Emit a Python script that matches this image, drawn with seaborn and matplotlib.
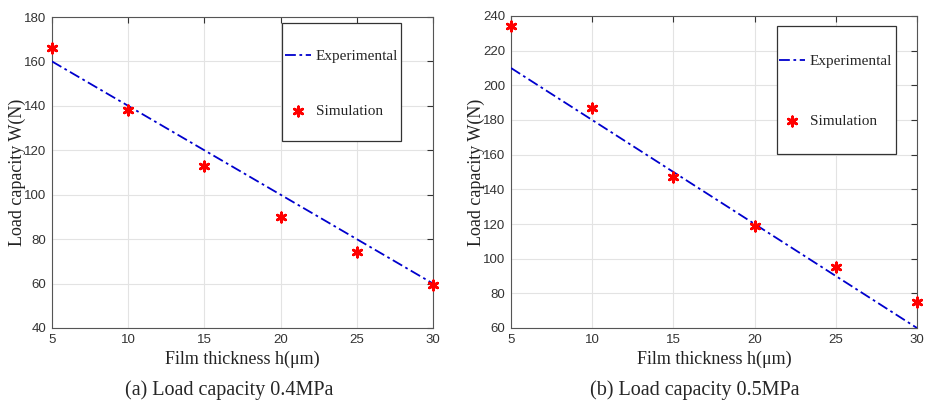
import matplotlib
matplotlib.use("Agg")
import matplotlib.pyplot as plt
import matplotlib.patches as mpatches
import seaborn as sns
import pandas as pd

thickness = [5, 10, 15, 20, 25, 30]
exp_04 = [160, 140, 120, 100, 80, 60]
sim_04 = [166, 138, 113, 90, 74, 59.5]
exp_05 = [210, 180, 150, 120, 90, 60]
sim_05 = [234, 187, 147, 119, 95, 75]
captions = ["(a) Load capacity 0.4MPa", "(b) Load capacity 0.5MPa"]
yticks_a = [40, 60, 80, 100, 120, 140, 160, 180]
yticks_b = [60, 80, 100, 120, 140, 160, 180, 200, 220, 240]

sns.set_style("white")
plt.rcParams['font.family'] = ['Liberation Sans', 'DejaVu Sans']

fig = plt.figure(figsize=(9.25, 4.05), dpi=100)
W, H = 925, 405
axA = fig.add_axes([52 / W, 1 - 328 / H, (433 - 52) / W, (328 - 17) / H])
axB = fig.add_axes([511 / W, 1 - 328 / H, (917 - 511) / W, (328 - 16) / H])

serif = ['Liberation Serif', 'DejaVu Serif']

def draw(ax, exp, sim, yticks, box, legpos, spacing, caption, cx):
    df = pd.DataFrame({"h": thickness, "exp": exp, "sim": sim})
    sns.lineplot(data=df, x="h", y="exp", ax=ax, color="#0000CD", linestyle=(0, (6, 2, 1.5, 2)),
                 linewidth=1.3, label="Experimental", zorder=3)
    sns.scatterplot(data=df, x="h", y="sim", ax=ax, color="red", marker=(6, 2, 0), s=45,
                    linewidth=2.0, edgecolor="red", label="Simulation", zorder=4, clip_on=False)
    ax.set_xlim(5, 30)
    ax.set_ylim(yticks[0], yticks[-1])
    ax.set_xticks(thickness)
    ax.set_yticks(yticks)
    ax.grid(True, color="#e3e3e3", linewidth=0.8)
    ax.set_axisbelow(True)
    ax.tick_params(direction="in", length=4, top=True, right=True, labelsize=9.5,
                   labelcolor="#333333", color="#333333", pad=4)
    for s in ax.spines.values():
        s.set_color("#555555")
        s.set_linewidth(0.8)
        s.set_visible(True)
    ax.set_xlabel("Film thickness h(\u03bcm)", fontfamily=serif, fontsize=13, color="#222222", labelpad=4)
    ax.set_ylabel("Load capacity W(N)", fontfamily=serif, fontsize=13, color="#222222", labelpad=-1)
    # legend frame drawn as a box in axes coordinates
    x0, x1, y0, y1 = box
    rect = mpatches.Rectangle((x0, y0), x1 - x0, y1 - y0, transform=ax.transAxes,
                              facecolor="white", edgecolor="#333333", linewidth=0.9, zorder=5)
    ax.add_patch(rect)
    leg = ax.legend(loc="upper left", bbox_to_anchor=legpos, frameon=False,
                    labelspacing=spacing, handlelength=1.7, handletextpad=0.3, borderpad=0,
                    borderaxespad=0, prop={'family': serif, 'size': 11})
    leg.set_zorder(6)
    fig.text(cx, 1 - 390 / H, caption, ha="center", va="center", fontfamily=serif, fontsize=14.5)

draw(axA, exp_04, sim_04, yticks_a, (0.604, 0.916, 0.601, 0.981), (0.612, 0.895), 2.65,
     captions[0], 229 / W)
draw(axB, exp_05, sim_05, yticks_b, (0.655, 0.948, 0.558, 0.968), (0.661, 0.877), 3.0,
     captions[1], 695 / W)

fig.savefig("out.png", dpi=100)
